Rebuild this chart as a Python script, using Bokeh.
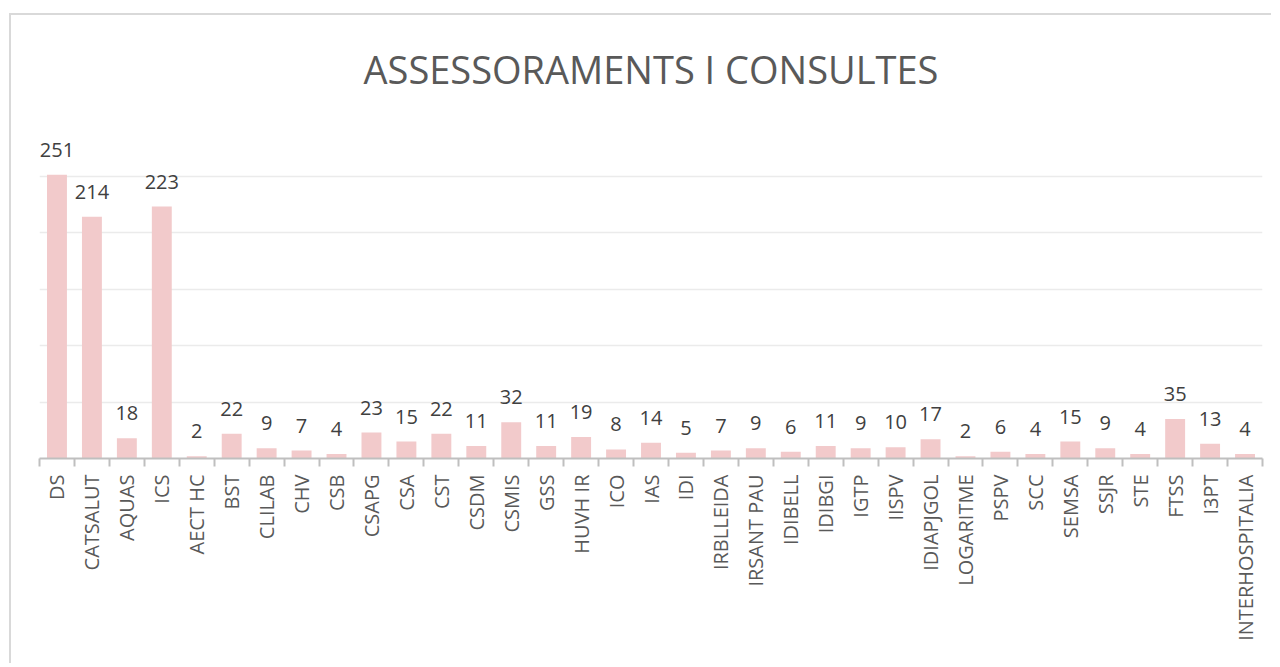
import math
import numpy as np
from bokeh.plotting import figure
from bokeh.models import ColumnDataSource, FixedTicker, Range1d, Title
from bokeh.core.properties import value
from bokeh.embed import file_html
from bokeh.resources import INLINE

categories = ["DS", "CATSALUT", "AQUAS", "ICS", "AECT HC", "BST", "CLILAB", "CHV", "CSB",
              "CSAPG", "CSA", "CST", "CSDM", "CSMIS", "GSS", "HUVH IR", "ICO", "IAS", "IDI",
              "IRBLLEIDA", "IRSANT PAU", "IDIBELL", "IDIBGI", "IGTP", "IISPV", "IDIAPJGOL",
              "LOGARITME", "PSPV", "SCC", "SEMSA", "SSJR", "STE", "FTSS", "I3PT", "INTERHOSPITALIA"]
values = [251, 214, 18, 223, 2, 22, 9, 7, 4,
          23, 15, 22, 11, 32, 11, 19, 8, 14, 5,
          7, 9, 6, 11, 9, 10, 17,
          2, 6, 4, 15, 9, 4, 35, 13, 4]
grid_values = [0, 50, 100, 150, 200, 250, 300]
title_text = "ASSESSORAMENTS I CONSULTES"

n = len(categories)
xpos = np.arange(n) + 0.5
src = ColumnDataSource(dict(x=xpos, top=values, label=[str(v) for v in values]))

FONT = "Open Sans"

p = figure(width=1262, height=650, output_backend="svg", toolbar_location=None,
           x_range=Range1d(0, n), y_range=Range1d(0, 300),
           min_border_left=28, min_border_right=11, min_border_top=104, min_border_bottom=207,
           margin=(13, 0, 0, 9))
p.styles = {"border-left": "2px solid #d9d9d9", "border-top": "2px solid #d9d9d9"}
p.title = Title(text=title_text, align="center", text_font=FONT, text_font_size="38px",
                text_color="#595959", text_font_style="normal", offset=0,
                standoff=50)
p.outline_line_color = None

p.vbar(x="x", top="top", width=0.57, source=src, fill_color="#f2cacb", line_color=None)
p.text(x="x", y="top", text="label", source=src, text_align="center",
       text_baseline="alphabetic", y_offset=-25, text_font=value(FONT),
       text_font_size="20px", text_color="#404040")

p.yaxis.visible = False
p.ygrid.ticker = FixedTicker(ticks=grid_values)
p.ygrid.grid_line_color = "#ebebeb"
p.ygrid.grid_line_width = 1.5
p.xgrid.grid_line_color = None

ax = p.xaxis[0]
ax.ticker = FixedTicker(ticks=list(xpos), minor_ticks=list(np.arange(n + 1)))
ax.major_label_overrides = {float(x): c for x, c in zip(xpos, categories)}
ax.major_tick_out = 0
ax.major_tick_in = 0
ax.minor_tick_out = 8
ax.minor_tick_in = 0
ax.minor_tick_line_color = "#bfbfbf"
ax.minor_tick_line_width = 2
ax.axis_line_color = "#bfbfbf"
ax.axis_line_width = 2
ax.major_label_orientation = math.pi / 2
ax.major_label_text_font = FONT
ax.major_label_text_font_size = "20px"
ax.major_label_text_color = "#595959"
ax.major_label_standoff = 8

open("out.html", "w").write(file_html(p, INLINE))
